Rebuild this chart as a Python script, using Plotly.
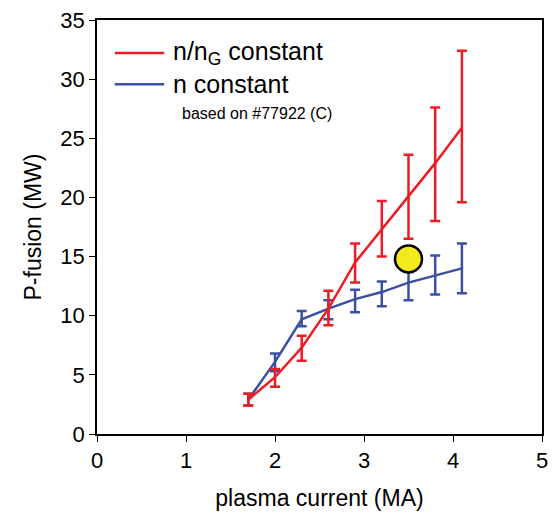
import plotly.graph_objects as go

# plasma current (MA)
current = [1.7, 2.0, 2.3, 2.6, 2.9, 3.2, 3.5, 3.8, 4.1]

# n/nG constant: P-fusion (MW) with asymmetric error bars
pf_ng = [2.9, 4.8, 7.3, 10.6, 14.5, 17.3, 20.0, 22.9, 25.9]
pf_ng_hi = [3.4, 5.5, 8.3, 12.1, 16.1, 19.7, 23.6, 27.6, 32.4]
pf_ng_lo = [2.4, 4.0, 6.2, 9.2, 12.8, 15.0, 16.5, 18.0, 19.6]

# n constant
pf_n = [2.9, 6.1, 9.7, 10.6, 11.4, 12.0, 12.8, 13.4, 14.0]
pf_n_hi = [3.4, 6.8, 10.4, 11.3, 12.2, 12.9, 13.7, 15.1, 16.1]
pf_n_lo = [2.4, 5.3, 9.1, 9.7, 10.3, 10.8, 11.3, 11.8, 11.9]

# shot #77922 reference point
shot_x = [3.5]
shot_y = [14.8]

RED = "#ED1C24"
BLUE = "#3B4FA3"
FONT = "Liberation Sans, Arial, sans-serif"


def err(center, hi, lo):
    return ([h - c for h, c in zip(hi, center)],
            [c - l for c, l in zip(center, lo)])


fig = go.Figure()

up, dn = err(pf_n, pf_n_hi, pf_n_lo)
fig.add_trace(go.Scatter(
    x=current, y=pf_n, mode="lines",
    line=dict(color=BLUE, width=2.5),
    error_y=dict(type="data", symmetric=False, array=up, arrayminus=dn,
                 color=BLUE, thickness=2.5, width=5),
    showlegend=False,
))

up, dn = err(pf_ng, pf_ng_hi, pf_ng_lo)
fig.add_trace(go.Scatter(
    x=current, y=pf_ng, mode="lines",
    line=dict(color=RED, width=2.5),
    error_y=dict(type="data", symmetric=False, array=up, arrayminus=dn,
                 color=RED, thickness=2.5, width=5),
    showlegend=False,
))

fig.add_trace(go.Scatter(
    x=shot_x, y=shot_y, mode="markers",
    marker=dict(size=27, color="#F2EA1B", line=dict(color="black", width=2.5)),
    showlegend=False,
))

# ── hand-drawn legend ───────────────────────────────
for yy, col, txt in [(0.920, RED, "n/n<sub>G</sub> constant"),
                     (0.845, BLUE, "n constant")]:
    fig.add_shape(type="line", xref="paper", yref="paper",
                  x0=0.040, x1=0.151, y0=yy, y1=yy,
                  line=dict(color=col, width=2.5))
    fig.add_annotation(xref="paper", yref="paper", x=0.166, y=yy,
                       text=txt, showarrow=False,
                       xanchor="left", yanchor="middle",
                       font=dict(size=25, color="black", family=FONT))

fig.add_annotation(xref="paper", yref="paper", x=0.186, y=0.773,
                   text="based on #77922 (C)", showarrow=False,
                   xanchor="left", yanchor="middle",
                   font=dict(size=16, color="black", family=FONT))

axis_common = dict(
    showline=True, linecolor="black", linewidth=1.5, mirror=True,
    ticks="outside", ticklen=6, tickcolor="black", tickwidth=1.2,
    showgrid=False, zeroline=False,
    tickfont=dict(size=22, color="black", family=FONT),
)

fig.update_layout(
    width=555, height=514,
    margin=dict(l=97, r=7, t=20, b=80),
    plot_bgcolor="white", paper_bgcolor="white",
    font=dict(family=FONT, color="black"),
    xaxis=dict(range=[0, 5], dtick=1,
               title=dict(text="plasma current (MA)",
                          font=dict(size=23, color="black"), standoff=18),
               **axis_common),
    yaxis=dict(range=[0, 35], dtick=5,
               title=dict(text="P-fusion (MW)",
                          font=dict(size=23, color="black"), standoff=12),
               **axis_common),
)

fig.write_html("out.html", config={"displayModeBar": False},
               post_script="document.body.style.margin='0';")
